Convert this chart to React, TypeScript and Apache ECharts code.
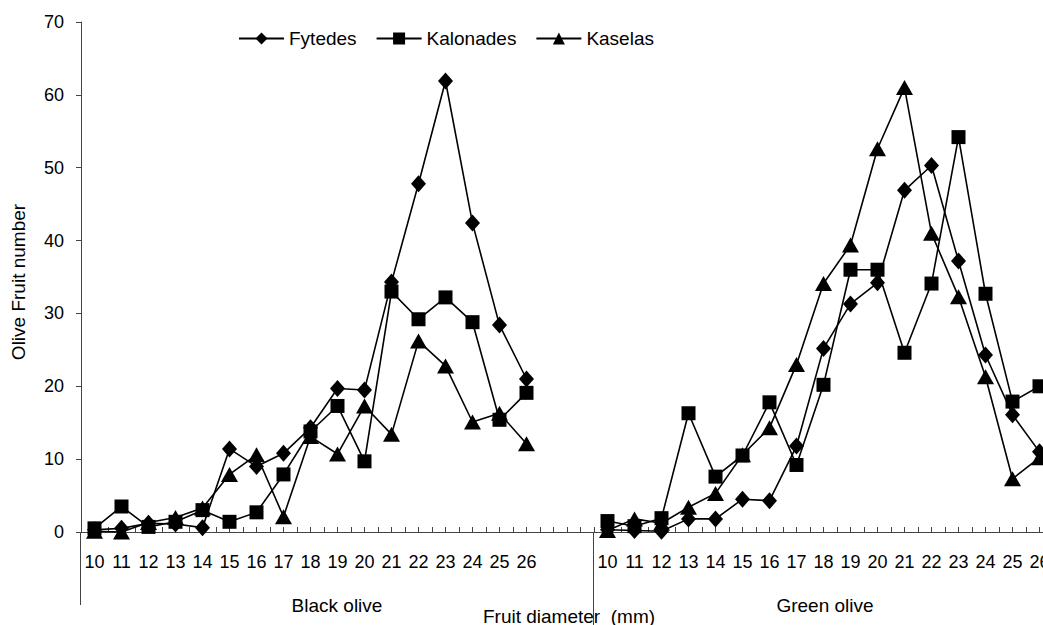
import React, { useEffect, useRef } from "react";
import * as echarts from "echarts";

const diameters = ["10","11","12","13","14","15","16","17","18","19","20","21","22","23","24","25","26"];
const gapCategories = ["", ""];

const fytedesBlack = [0.3, 0.5, 1.2, 1.1, 0.6, 11.4, 9.0, 10.8, 14.3, 19.7, 19.5, 34.3, 47.8, 61.9, 42.4, 28.4, 21.0];
const kalonadesBlack = [0.5, 3.5, 0.7, 1.4, 3.0, 1.4, 2.7, 7.9, 13.8, 17.3, 9.7, 33.0, 29.2, 32.2, 28.8, 15.4, 19.1];
const kaselasBlack = [0.1, 0.0, 1.3, 2.0, 3.3, 7.9, 10.6, 2.1, 13.1, 10.7, 17.3, 13.4, 26.2, 22.8, 15.1, 16.3, 12.1];

const fytedesGreen = [0.3, 0.2, 0.1, 1.8, 1.8, 4.5, 4.3, 11.8, 25.2, 31.3, 34.2, 46.9, 50.3, 37.2, 24.3, 16.1, 11.0];
const kalonadesGreen = [1.5, 0.8, 1.9, 16.3, 7.6, 10.5, 17.8, 9.2, 20.2, 36.0, 36.0, 24.6, 34.1, 54.2, 32.7, 17.9, 20.0];
const kaselasGreen = [0.2, 1.8, 1.2, 3.4, 5.3, 10.6, 14.3, 23.0, 34.1, 39.4, 52.6, 61.0, 41.0, 32.3, 21.3, 7.3, 10.2];

const seriesNames = ["Fytedes", "Kalonades", "Kaselas"];
const groupLabels = ["Black olive", "Green olive"];
const xTitle = "Fruit diameter  (mm)";
const yTitle = "Olive Fruit number";

const FONT = "'Liberation Sans', Arial, sans-serif";

export default function App() {
  const ref = useRef<HTMLDivElement>(null);
  useEffect(() => {
    document.body.style.margin = "0";
    const chart = echarts.init(ref.current!, null, { renderer: "svg" });
    const categories = [...diameters, ...gapCategories, ...diameters];
    const join = (a: number[], b: number[]) => [...a, ...gapCategories.map(() => null), ...b];
    const tickCats = categories.flatMap((_, i) => [String(i * 2), String(i * 2 + 1)]);
    const symbols = ["diamond", "rect", "triangle"];
    const sizes = [[15, 17], 14, [17, 15]];
    const datasets = [
      join(fytedesBlack, fytedesGreen),
      join(kalonadesBlack, kalonadesGreen),
      join(kaselasBlack, kaselasGreen),
    ];
    chart.setOption({
      animation: false,
      textStyle: { fontFamily: FONT },
      grid: { left: 81, top: 22, width: 972, height: 510 },
      legend: {
        left: 233,
        top: 24,
        itemWidth: 45,
        itemHeight: 15,
        itemGap: 19,
        textStyle: { fontSize: 19, color: "#000", fontFamily: FONT },
        data: seriesNames,
      },
      xAxis: [
        {
          type: "category",
          data: categories,
          boundaryGap: true,
          axisLine: { lineStyle: { color: "#444", width: 1 } },
          axisTick: { show: false },
          axisLabel: { interval: 0, fontSize: 18, color: "#000", margin: 21, fontFamily: FONT },
        },
        {
          type: "category",
          data: tickCats,
          boundaryGap: true,
          position: "bottom",
          axisLine: { show: false },
          axisLabel: { show: false },
          axisTick: { show: true, inside: true, length: 5, interval: 0, lineStyle: { color: "#444" } },
        },
      ],
      yAxis: {
        type: "value",
        min: 0,
        max: 70,
        interval: 10,
        axisLine: { show: true, lineStyle: { color: "#444", width: 1 } },
        axisTick: { show: true, length: 5, lineStyle: { color: "#444" } },
        axisLabel: { fontSize: 18, color: "#000", margin: 17, fontFamily: FONT },
        splitLine: { show: false },
      },
      series: seriesNames.map((name, i) => ({
        name,
        type: "line",
        xAxisIndex: 0,
        data: datasets[i],
        symbol: symbols[i],
        symbolSize: sizes[i],
        showAllSymbol: true,
        connectNulls: false,
        lineStyle: { color: "#000", width: 1.6 },
        itemStyle: { color: "#000" },
      })),
      graphic: [
        { type: "line", shape: { x1: 80.5, y1: 532, x2: 80.5, y2: 605 }, style: { stroke: "#444", lineWidth: 1 } },
        { type: "line", shape: { x1: 593.5, y1: 532, x2: 593.5, y2: 625 }, style: { stroke: "#444", lineWidth: 1 } },
        { type: "text", x: 337, y: 605, style: { text: groupLabels[0], font: `19px ${FONT}`, fill: "#000", align: "center", verticalAlign: "middle" } },
        { type: "text", x: 825, y: 605, style: { text: groupLabels[1], font: `19px ${FONT}`, fill: "#000", align: "center", verticalAlign: "middle" } },
        { type: "text", x: 569, y: 616, style: { text: xTitle, font: `19px ${FONT}`, fill: "#000", align: "center", verticalAlign: "middle" } },
        { type: "text", x: 18, y: 282, rotation: Math.PI / 2, style: { text: yTitle, font: `19px ${FONT}`, fill: "#000", align: "center", verticalAlign: "middle" } },
      ],
    });
    return () => chart.dispose();
  }, []);
  return (
    <div style={{ width: 1043, height: 625, overflow: "hidden", position: "relative" }}>
      <div ref={ref} style={{ width: 1070, height: 625 }} />
    </div>
  );
}
